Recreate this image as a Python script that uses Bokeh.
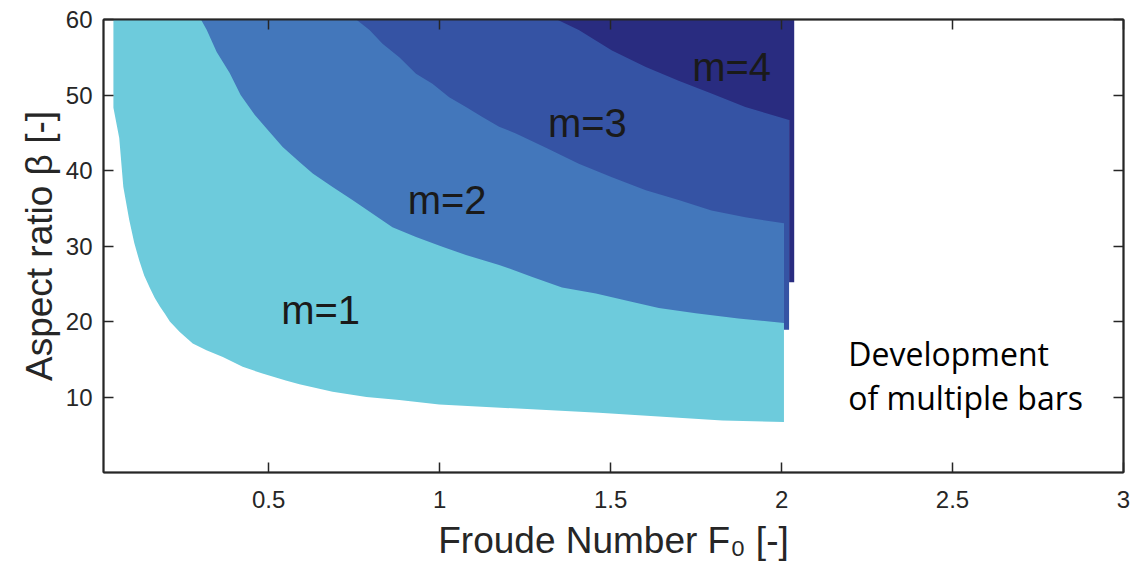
from bokeh.plotting import figure
from bokeh.models import (Range1d, LinearAxis, FixedTicker, NumeralTickFormatter,
                          CustomJSTickFormatter)
from bokeh.embed import file_html
from bokeh.resources import INLINE
from bokeh.core.properties import value

# ---------------- data ----------------
BETA_TOP = 60.0

# lower boundary of the m=1 region (Froude number F0, aspect ratio beta)
F_m1 = [0.046, 0.063, 0.075, 0.092, 0.107, 0.122, 0.136, 0.153, 0.167, 0.182,
        0.197, 0.211, 0.240, 0.278, 0.318, 0.366, 0.424, 0.482, 0.550, 0.590,
        0.687, 0.786, 0.882, 0.999, 1.466, 1.827, 2.007]
beta_m1 = [48.3, 44.3, 37.8, 33.5, 30.4, 28.0, 26.1, 24.4, 23.1, 22.0,
           21.0, 20.0, 18.6, 17.1, 16.2, 15.3, 14.0, 13.1, 12.2, 11.7,
           10.7, 10.0, 9.6, 9.0, 7.9, 6.9, 6.7]

# lower boundary of the m=2 region
F_m2 = [0.302, 0.319, 0.348, 0.386, 0.418, 0.459, 0.497, 0.541, 0.591, 0.629,
        0.687, 0.745, 0.803, 0.862, 0.931, 1.008, 1.077, 1.174, 1.271, 1.358,
        1.457, 1.561, 1.641, 1.749, 1.874, 2.007]
beta_m2 = [60.0, 58.6, 55.7, 52.9, 50.0, 47.4, 45.4, 43.1, 41.1, 39.6,
           37.8, 36.1, 34.3, 32.5, 31.2, 29.9, 28.8, 27.5, 25.9, 24.5,
           23.7, 22.6, 21.8, 21.1, 20.4, 19.8]

# lower boundary of the m=3 region
F_m3 = [0.756, 0.795, 0.833, 0.882, 0.931, 0.979, 1.028, 1.077, 1.125, 1.174,
        1.223, 1.311, 1.407, 1.504, 1.603, 1.699, 1.795, 1.894, 2.007, 2.007,
        2.022]
beta_m3 = [60.0, 58.6, 56.8, 55.0, 52.8, 51.5, 49.7, 48.4, 47.1, 45.8,
           44.9, 43.0, 40.9, 39.1, 37.4, 36.1, 34.7, 33.8, 33.0, 18.9,
           18.9]

# lower boundary of the m=4 region
F_m4 = [1.343, 1.407, 1.504, 1.603, 1.699, 1.795, 1.894, 2.022, 2.022, 2.037]
beta_m4 = [60.0, 58.6, 55.9, 53.7, 51.9, 50.2, 48.4, 46.7, 25.2, 25.2]

mode_labels = ["m=1", "m=2", "m=3", "m=4"]
note_lines = ["Development", "of multiple bars"]
x_ticks = [0.5, 1, 1.5, 2, 2.5, 3]
y_ticks = [10, 20, 30, 40, 50, 60]

# ---------------- styling / placement ----------------
colors = ["#6dcbdc", "#4377bb", "#3553a4", "#292c80"]
mode_label_x = [0.652, 1.022, 1.432, 1.854]
mode_label_y = [21.5, 36.1, 46.3, 53.7]
note_x = [2.195, 2.195]
note_y = [15.8, 10.0]
AXIS_COLOR = "#262626"
FONT = "Liberation Sans"

p = figure(frame_width=1020, frame_height=453,
           x_range=Range1d(0.017, 3.0), y_range=Range1d(0, 60),
           x_axis_location="below", y_axis_location="left",
           output_backend="svg", toolbar_location=None,
           min_border_left=103, min_border_right=25,
           min_border_top=19, min_border_bottom=100)
p.grid.visible = False
p.outline_line_color = AXIS_COLOR
p.outline_line_width = 1.5
p.background_fill_color = "white"

bottom_axis = p.below[0]
left_axis = p.left[0]

for F, b, c in zip([F_m1, F_m2, F_m3, F_m4], [beta_m1, beta_m2, beta_m3, beta_m4], colors):
    p.varea(x=F, y1=b, y2=BETA_TOP, fill_color=c, fill_alpha=1.0)

p.text(x=mode_label_x, y=mode_label_y, text=mode_labels,
       text_font=value(FONT), text_font_size="40px", text_align="center",
       text_baseline="alphabetic", text_color="#1a1a1a")
p.text(x=note_x, y=note_y, text=note_lines,
       text_font=value("Open Sans"), text_font_size="32px", text_align="left",
       text_baseline="alphabetic", text_color="black")

blank = CustomJSTickFormatter(code="return '';")
top_axis = LinearAxis(formatter=blank)
right_axis = LinearAxis(formatter=blank)
p.add_layout(top_axis, "above")
p.add_layout(right_axis, "right")

for ax in [bottom_axis, top_axis]:
    ax.ticker = FixedTicker(ticks=x_ticks)
for ax in [left_axis, right_axis]:
    ax.ticker = FixedTicker(ticks=y_ticks)

for ax in [bottom_axis, left_axis, top_axis, right_axis]:
    ax.axis_line_color = AXIS_COLOR
    ax.axis_line_width = 2
    ax.major_tick_line_color = AXIS_COLOR
    ax.major_tick_line_width = 1.5
    ax.major_tick_in = 10
    ax.major_tick_out = 0
    ax.minor_tick_line_color = None
    ax.major_label_text_font = FONT
    ax.major_label_text_font_size = "24px"
    ax.major_label_text_color = AXIS_COLOR
    ax.axis_label_text_font = FONT
    ax.axis_label_text_font_size = "37px"
    ax.axis_label_text_font_style = "normal"
    ax.axis_label_text_color = AXIS_COLOR

for ax in [top_axis, right_axis]:
    ax.major_label_standoff = 0

bottom_axis.formatter = NumeralTickFormatter(format="0.[0]")
bottom_axis.major_label_standoff = 18
bottom_axis.axis_label = "Froude Number F\u2080 [-]"
bottom_axis.axis_label_standoff = 9

left_axis.major_label_standoff = 11
left_axis.axis_label = "Aspect ratio \u03b2 [-]"
left_axis.axis_label_standoff = 3

open("out.html", "w").write(file_html(p, INLINE))
